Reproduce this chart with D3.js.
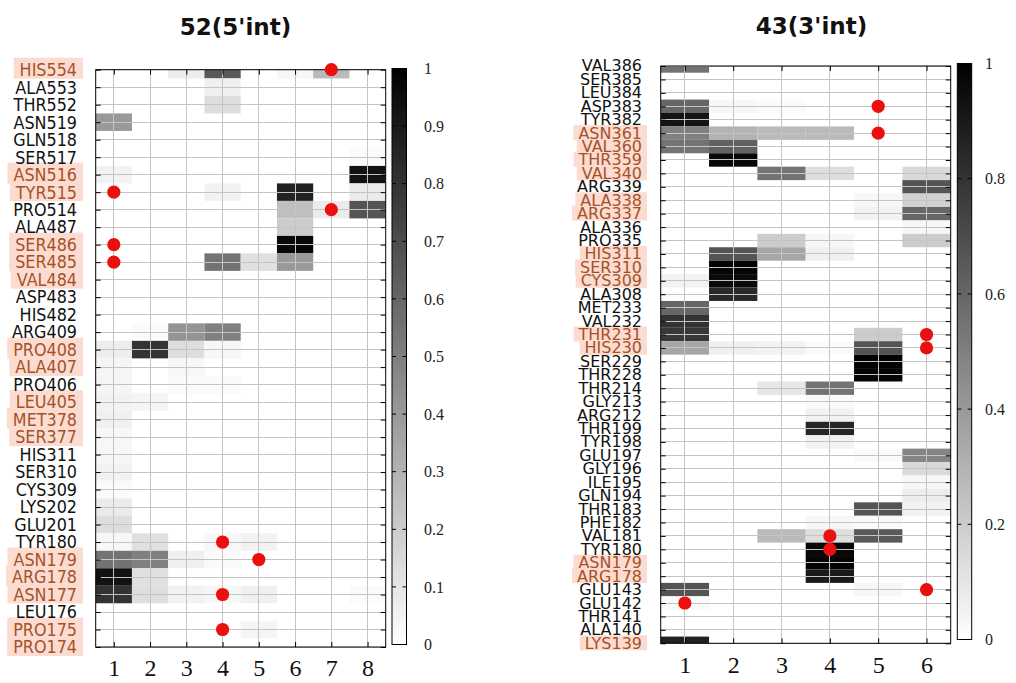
<!DOCTYPE html>
<html><head><meta charset="utf-8">
<script src="https://cdn.jsdelivr.net/npm/d3@7"></script>
<style>body{margin:0;background:#fff;} svg{display:block;}</style>
</head><body><svg id="c" width="1016" height="683"></svg>
<script>
// ---------------- DATA ----------------
const leftTitle = "52(5'int)";
const leftCols = [1, 2, 3, 4, 5, 6, 7, 8];
const leftRows = ["HIS554","ALA553","THR552","ASN519","GLN518","SER517","ASN516","TYR515","PRO514","ALA487",
  "SER486","SER485","VAL484","ASP483","HIS482","ARG409","PRO408","ALA407","PRO406","LEU405",
  "MET378","SER377","HIS311","SER310","CYS309","LYS202","GLU201","TYR180","ASN179","ARG178",
  "ASN177","LEU176","PRO175","PRO174"];
const leftValues = [
  [0,0,0.07,0.65,0,0.03,0.27,0],
  [0,0,0,0.06,0,0,0,0],
  [0,0,0,0.13,0,0,0,0],
  [0.40,0,0,0,0,0,0,0],
  [0,0,0,0,0,0,0,0],
  [0,0,0,0,0,0,0,0.02],
  [0.05,0,0,0,0,0,0,0.93],
  [0,0,0,0.05,0,0.87,0,0.08],
  [0,0,0,0,0,0.25,0.08,0.67],
  [0,0,0,0,0,0.20,0,0],
  [0,0,0,0,0,0.97,0,0],
  [0,0,0,0.55,0.12,0.40,0,0],
  [0,0,0,0,0,0,0,0],
  [0,0,0,0,0,0,0,0],
  [0,0,0,0,0,0,0,0],
  [0,0.02,0.42,0.50,0,0,0,0],
  [0.07,0.80,0.13,0.03,0,0,0,0],
  [0.04,0,0.03,0,0,0,0,0],
  [0.04,0,0.02,0.02,0,0,0,0],
  [0.05,0.04,0,0,0,0,0,0],
  [0.06,0,0,0,0,0,0,0],
  [0.03,0,0,0,0,0,0,0],
  [0.03,0,0,0,0,0,0,0],
  [0.05,0,0,0,0,0,0,0],
  [0.02,0,0,0,0,0,0,0],
  [0.08,0,0,0,0,0,0,0],
  [0.13,0,0,0,0,0,0,0],
  [0.03,0.12,0,0.03,0.05,0,0,0],
  [0.55,0.50,0.06,0.02,0,0,0,0],
  [0.93,0.12,0,0,0,0,0,0],
  [0.80,0.13,0.05,0.03,0.06,0,0,0.02],
  [0,0,0,0,0,0,0,0],
  [0,0,0,0,0.04,0,0,0],
  [0,0,0,0,0,0,0,0]
];
const leftHighlight = ["HIS554","ASN516","TYR515","SER486","SER485","VAL484","PRO408","ALA407","LEU405",
  "MET378","SER377","ASN179","ARG178","ASN177","PRO175","PRO174"];
const leftDotRows = ["HIS554","TYR515","PRO514","SER486","SER485","TYR180","ASN179","ASN177","PRO175"];
const leftDotCols = [7, 1, 7, 1, 1, 4, 5, 4, 4];
const leftBarTicks = [0, 0.1, 0.2, 0.3, 0.4, 0.5, 0.6, 0.7, 0.8, 0.9, 1];
const leftBarLabels = ["0","0.1","0.2","0.3","0.4","0.5","0.6","0.7","0.8","0.9","1"];

const rightTitle = "43(3'int)";
const rightCols = [1, 2, 3, 4, 5, 6];
const rightRows = ["VAL386","SER385","LEU384","ASP383","TYR382","ASN361","VAL360","THR359","VAL340","ARG339",
  "ALA338","ARG337","ALA336","PRO335","HIS311","SER310","CYS309","ALA308","MET233","VAL232",
  "THR231","HIS230","SER229","THR228","THR214","GLY213","ARG212","THR199","TYR198","GLU197",
  "GLY196","ILE195","GLN194","THR183","PHE182","VAL181","TYR180","ASN179","ARG178","GLU143",
  "GLU142","THR141","ALA140","LYS139"];
const rightValues = [
  [0.55,0,0,0,0,0],
  [0,0,0,0,0,0],
  [0,0,0,0,0,0],
  [0.60,0.03,0.02,0,0,0],
  [0.92,0,0,0,0,0],
  [0.50,0.30,0.27,0.27,0,0],
  [0.55,0.62,0,0,0,0],
  [0,0.97,0,0,0,0],
  [0,0,0.55,0.13,0,0.15],
  [0,0,0,0,0,0.67],
  [0,0,0,0,0.03,0.18],
  [0,0,0,0,0.05,0.60],
  [0,0,0,0,0,0.03],
  [0,0,0.20,0.03,0,0.20],
  [0,0.67,0.35,0.06,0,0],
  [0,0.98,0,0,0,0],
  [0.05,0.96,0,0,0,0],
  [0,0.84,0,0,0,0],
  [0.60,0,0,0,0,0],
  [0.80,0,0,0,0,0],
  [0.78,0,0,0,0.20,0],
  [0.35,0.06,0.05,0.02,0.67,0],
  [0,0,0,0,0.99,0],
  [0,0,0,0,0.98,0],
  [0,0,0.10,0.55,0,0],
  [0,0,0,0.02,0,0],
  [0,0,0,0.05,0,0],
  [0,0,0,0.85,0,0],
  [0,0,0,0.05,0,0],
  [0,0,0,0,0.02,0.48],
  [0,0,0,0,0,0.15],
  [0,0,0,0,0,0.03],
  [0,0,0,0,0,0.07],
  [0,0,0,0,0.67,0.05],
  [0,0,0,0.03,0.02,0],
  [0,0,0.27,0.13,0.65,0],
  [0,0,0,0.97,0,0],
  [0,0,0,0.98,0,0],
  [0,0,0,0.90,0,0],
  [0.67,0,0,0,0.03,0],
  [0.02,0,0,0,0,0],
  [0,0,0,0,0,0],
  [0,0,0,0,0,0],
  [0.87,0,0,0,0,0]
];
const rightHighlight = ["ASN361","VAL360","THR359","VAL340","ALA338","ARG337","HIS311","SER310","CYS309",
  "THR231","HIS230","ASN179","ARG178","LYS139"];
const rightDotRows = ["ASP383","ASN361","THR231","HIS230","VAL181","TYR180","GLU143","GLU142"];
const rightDotCols = [5, 5, 6, 6, 4, 4, 6, 1];
const rightBarTicks = [0, 0.2, 0.4, 0.6, 0.8, 1];
const rightBarLabels = ["0","0.2","0.4","0.6","0.8","1"];

// ---------------- DRAWING ----------------
const svg = d3.select("#c");
const color = d3.scaleLinear().domain([0, 1]).range(["#ffffff", "#000000"]);

const defs = svg.append("defs");
const grad = defs.append("linearGradient").attr("id", "gbar")
  .attr("x1", 0).attr("y1", 1).attr("x2", 0).attr("y2", 0);
grad.append("stop").attr("offset", "0%").attr("stop-color", "#ffffff");
grad.append("stop").attr("offset", "100%").attr("stop-color", "#000000");

function panel(data, L) {
  const x = d3.scaleLinear().domain([0.5, data.cols.length + 0.5]).range([L.x0, L.x1]);
  const y = d3.scaleLinear().domain([0, data.rows.length - 1]).range([L.y0, L.y1]);
  const rowIdx = new Map(data.rows.map((r, i) => [r, i]));
  const g = svg.append("g");

  defs.append("clipPath").attr("id", L.id + "clip").append("rect")
    .attr("x", L.x0).attr("y", L.y0).attr("width", L.x1 - L.x0).attr("height", L.y1 - L.y0);

  // title
  g.append("text").attr("x", L.titleX).attr("y", L.titleY).attr("text-anchor", "middle")
    .attr("font-family", "DejaVu Sans").attr("font-weight", "bold").attr("font-size", 23)
    .attr("fill", "#111").text(data.title);

  // cells
  const cells = [];
  data.values.forEach((row, i) => row.forEach((v, j) => { if (v > 0) cells.push({i, c: data.cols[j], v}); }));
  g.append("g").attr("clip-path", `url(#${L.id}clip)`).selectAll("rect").data(cells).join("rect")
    .attr("x", d => x(d.c - 0.5)).attr("width", d => x(d.c + 0.5) - x(d.c - 0.5))
    .attr("y", d => y(d.i - 0.5)).attr("height", d => y(d.i + 0.5) - y(d.i - 0.5))
    .attr("fill", d => color(d.v));

  // grid
  const grid = g.append("g").attr("stroke", "#c4c4c4").attr("stroke-width", 1).attr("shape-rendering", "crispEdges");
  grid.selectAll("line.v").data(data.cols).join("line").attr("class", "v")
    .attr("x1", d => x(d)).attr("x2", d => x(d)).attr("y1", L.y0).attr("y2", L.y1);
  grid.selectAll("line.h").data(d3.range(data.rows.length)).join("line").attr("class", "h")
    .attr("y1", d => y(d)).attr("y2", d => y(d)).attr("x1", L.x0).attr("x2", L.x1);

  // axes (ticks inward)
  const yAxisScale = d3.scalePoint().domain(data.rows).range([L.y0, L.y1]);
  const axL = g.append("g").attr("transform", `translate(${L.x0},0)`)
    .call(d3.axisLeft(yAxisScale).tickSize(-5).tickFormat(""));
  const axR = g.append("g").attr("transform", `translate(${L.x1},0)`)
    .call(d3.axisRight(yAxisScale).tickSize(-5).tickFormat(""));
  const axT = g.append("g").attr("transform", `translate(0,${L.y0})`)
    .call(d3.axisTop(x).tickValues(data.cols).tickSize(-5).tickFormat(""));
  const axB = g.append("g").attr("transform", `translate(0,${L.y1})`)
    .call(d3.axisBottom(x).tickValues(data.cols).tickSize(-5).tickPadding(L.xPad).tickFormat(d3.format("d")));
  [axL, axR, axT, axB].forEach(a => { a.select(".domain").remove(); a.selectAll("line").attr("stroke", "#000"); });
  axB.selectAll("text").attr("font-family", "Liberation Serif").attr("font-size", 24).attr("fill", "#111");

  // frame
  g.append("rect").attr("x", L.x0).attr("y", L.y0).attr("width", L.x1 - L.x0).attr("height", L.y1 - L.y0)
    .attr("fill", "none").attr("stroke", "#000").attr("stroke-width", 1);

  // dots
  const dots = data.dotRows.map((r, k) => ({i: rowIdx.get(r), c: data.dotCols[k]}));
  g.append("g").selectAll("circle").data(dots).join("circle")
    .attr("cx", d => x(d.c)).attr("cy", d => y(d.i)).attr("r", 6.6).attr("fill", "#ea1010");

  // row labels with highlight boxes
  const hl = new Set(data.highlight);
  const boxG = g.append("g");
  const txtG = g.append("g");
  data.rows.forEach((r, i) => {
    const gy = y(i);
    const t = txtG.append("text")
      .attr("transform", `translate(${L.labelX},${gy}) scale(1,${L.labelSY})`)
      .attr("text-anchor", "end").attr("dy", "0.36em")
      .attr("font-family", "DejaVu Sans").attr("font-size", L.labelFS)
      .attr("fill", hl.has(r) ? "#a5522a" : "#111").text(r);
    if (hl.has(r)) {
      const w = t.node().getComputedTextLength();
      const bx = L.labelX - w - L.padL;
      boxG.append("rect").attr("x", bx).attr("width", L.boxRight - bx)
        .attr("y", gy + L.boxDy - L.boxH / 2).attr("height", L.boxH).attr("fill", "#fcdcd0");
    }
  });

  // colorbar
  const cb = svg.append("g");
  const cy = d3.scaleLinear().domain([0, 1]).range([L.cbY1, L.cbY0]);
  cb.append("rect").attr("x", L.cbX0).attr("y", L.cbY0).attr("width", L.cbX1 - L.cbX0).attr("height", L.cbY1 - L.cbY0)
    .attr("fill", "url(#gbar)").attr("stroke", "#000").attr("stroke-width", 1);
  data.barTicks.forEach((v, k) => {
    if (v > 0 && v < 1) {
      cb.append("line").attr("x1", L.cbX0).attr("x2", L.cbX0 + 4).attr("y1", cy(v)).attr("y2", cy(v)).attr("stroke", "#000");
      cb.append("line").attr("x1", L.cbX1 - 4).attr("x2", L.cbX1).attr("y1", cy(v)).attr("y2", cy(v)).attr("stroke", "#000");
    }
    cb.append("text").attr("x", L.cbLabelX).attr("y", cy(v)).attr("dy", "0.35em")
      .attr("font-family", "Liberation Serif").attr("font-size", 16).attr("fill", "#222")
      .text(data.barLabels[k]);
  });
}

panel(
  {title: leftTitle, cols: leftCols, rows: leftRows, values: leftValues, highlight: leftHighlight,
   dotRows: leftDotRows, dotCols: leftDotCols, barTicks: leftBarTicks, barLabels: leftBarLabels},
  {id: "L", x0: 95.7, x1: 385.7, y0: 69.7, y1: 647, titleX: 235.5, titleY: 34.5, xPad: 12,
   labelX: 77, labelSY: 1.1, labelFS: 16, padL: 6, boxRight: 83, boxH: 21, boxDy: -1.5,
   cbX0: 392, cbX1: 406.5, cbY0: 68.5, cbY1: 644.5, cbLabelX: 424}
);
panel(
  {title: rightTitle, cols: rightCols, rows: rightRows, values: rightValues, highlight: rightHighlight,
   dotRows: rightDotRows, dotCols: rightDotCols, barTicks: rightBarTicks, barLabels: rightBarLabels},
  {id: "R", x0: 660.7, x1: 950.7, y0: 66, y1: 643.3, titleX: 811.5, titleY: 34, xPad: 13,
   labelX: 642, labelSY: 0.95, labelFS: 16, padL: 5, boxRight: 647, boxH: 15, boxDy: -0.5,
   cbX0: 957.3, cbX1: 971.7, cbY0: 63.5, cbY1: 639.5, cbLabelX: 985}
);
</script></body></html>
